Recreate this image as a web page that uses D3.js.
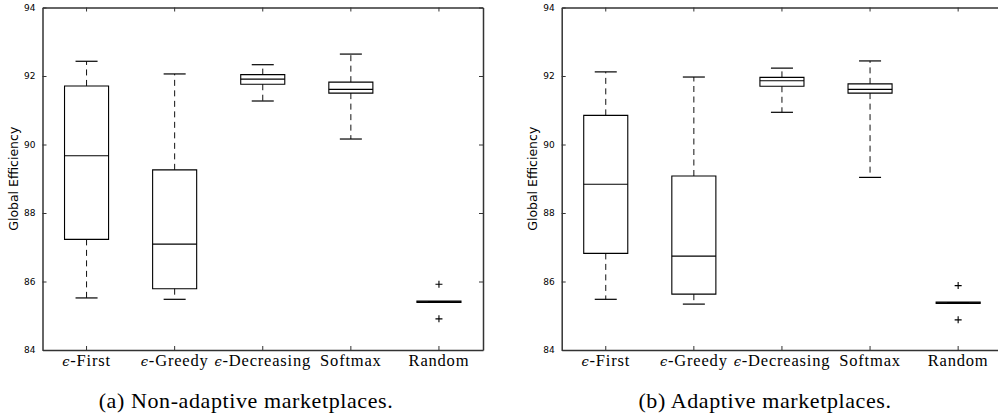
<!DOCTYPE html>
<html>
<head>
<meta charset="utf-8">
<script src="https://cdn.jsdelivr.net/npm/d3@7"></script>
<style>
  html, body { margin: 0; padding: 0; background: #fff; }
  svg { display: block; }
</style>
</head>
<body>
<svg id="chart" width="998" height="419"></svg>
<script>
// ---------- data ----------
const categories = ["ϵ-First", "ϵ-Greedy", "ϵ-Decreasing", "Softmax", "Random"];
const yTicks = [84, 86, 88, 90, 92, 94];
const yLabel = "Global Efficiency";
const captions = ["(a) Non-adaptive marketplaces.", "(b) Adaptive marketplaces."];

// (a) Non-adaptive marketplaces
const naWhiskerLow  = [85.52, 85.48, 91.27, 90.16, 85.41];
const naQ1          = [87.23, 85.79, 91.76, 91.50, 85.39];
const naMedian      = [89.67, 87.09, 91.91, 91.61, 85.41];
const naQ3          = [91.71, 89.26, 92.04, 91.82, 85.43];
const naWhiskerHigh = [92.43, 92.06, 92.33, 92.64, 85.41];
const naOutliers    = [[], [], [], [], [85.92, 84.91]];

// (b) Adaptive marketplaces
const adWhiskerLow  = [85.48, 85.34, 90.94, 89.04, 85.38];
const adQ1          = [86.82, 85.63, 91.70, 91.50, 85.36];
const adMedian      = [88.84, 86.74, 91.86, 91.61, 85.38];
const adQ3          = [90.85, 89.08, 91.96, 91.77, 85.40];
const adWhiskerHigh = [92.12, 91.97, 92.23, 92.44, 85.38];
const adOutliers    = [[], [], [], [], [85.88, 84.88]];

// ---------- drawing ----------
const svg = d3.select("#chart");

function buildRows(lo, q1, med, q3, hi, outl) {
  return categories.map((c, i) => ({
    cat: c, lo: lo[i], q1: q1[i], med: med[i], q3: q3[i], hi: hi[i], out: outl[i]
  }));
}

const panels = [
  { x0: 42.5, x1: 483, rows: buildRows(naWhiskerLow, naQ1, naMedian, naQ3, naWhiskerHigh, naOutliers), caption: captions[0], labelX: 14, capX: 246 },
  { x0: 561.7, x1: 1002.2, rows: buildRows(adWhiskerLow, adQ1, adMedian, adQ3, adWhiskerHigh, adOutliers), caption: captions[1], labelX: 533, capX: 765 }
];
const yTop = 7.5, yBot = 350;
const axisColor = "#333";

panels.forEach(p => {
  const g = svg.append("g");
  const x = d3.scaleBand().domain(categories).range([p.x0, p.x1]).padding(0);
  const y = d3.scaleLinear().domain([84, 94]).range([yBot, yTop]);
  const bw = x.bandwidth();
  const cx = c => x(c) + bw / 2;
  const boxW = bw * 0.5, capW = bw * 0.25;

  // axes
  const left = g.append("g").attr("transform", `translate(${p.x0},0)`)
    .call(d3.axisLeft(y).tickValues(yTicks).tickSize(-4).tickSizeOuter(0).tickPadding(7).tickFormat(d3.format("d")));
  const right = g.append("g").attr("transform", `translate(${p.x1},0)`)
    .call(d3.axisRight(y).tickValues(yTicks).tickSize(-4).tickSizeOuter(0).tickFormat(""));
  const bottom = g.append("g").attr("transform", `translate(0,${yBot})`)
    .call(d3.axisBottom(x).tickSize(-4).tickSizeOuter(0).tickFormat(""));
  const top = g.append("g").attr("transform", `translate(0,${yTop})`)
    .call(d3.axisTop(x).tickSize(-4).tickSizeOuter(0).tickFormat(""));
  [left, right, bottom, top].forEach(a => {
    a.select(".domain").attr("stroke", axisColor).attr("stroke-width", 1.5);
    a.selectAll(".tick line").attr("stroke", axisColor).attr("stroke-width", 1);
  });
  left.selectAll(".tick text")
    .attr("font-family", "'DejaVu Sans', sans-serif").attr("font-size", 9).attr("fill", "#000");

  // x tick labels
  bottom.selectAll(".tick").each(function (d) {
    const t = d3.select(this).append("text")
      .attr("text-anchor", "middle")
      .attr("font-family", "'Liberation Serif', 'Times New Roman', serif")
      .attr("font-size", 16.5).attr("letter-spacing", 0.8).attr("fill", "#000");
    if (d.startsWith("ϵ")) {
      t.append("tspan").attr("font-style", "italic").attr("font-family", "'DejaVu Serif', serif").attr("font-size", 13).text("ϵ");
      t.append("tspan").text(d.slice(1));
    } else {
      t.text(d);
    }
    t.attr("y", 15.5);
  });

  // boxes
  const boxes = g.append("g").selectAll("g").data(p.rows).join("g");
  // whiskers (dashed)
  boxes.append("line")
    .attr("x1", d => cx(d.cat)).attr("x2", d => cx(d.cat))
    .attr("y1", d => y(d.q3)).attr("y2", d => y(d.hi))
    .attr("stroke", "#111").attr("stroke-width", 1).attr("stroke-dasharray", "6,4.5");
  boxes.append("line")
    .attr("x1", d => cx(d.cat)).attr("x2", d => cx(d.cat))
    .attr("y1", d => y(d.q1)).attr("y2", d => y(d.lo))
    .attr("stroke", "#111").attr("stroke-width", 1).attr("stroke-dasharray", "6,4.5");
  // caps
  ["lo", "hi"].forEach(k => {
    boxes.append("line")
      .attr("x1", d => cx(d.cat) - capW / 2).attr("x2", d => cx(d.cat) + capW / 2)
      .attr("y1", d => y(d[k])).attr("y2", d => y(d[k]))
      .attr("stroke", "#000").attr("stroke-width", 1.2);
  });
  // box outline
  boxes.append("path")
    .attr("d", d => {
      const l = cx(d.cat) - boxW / 2, r = cx(d.cat) + boxW / 2;
      return `M${l},${y(d.q1)}L${r},${y(d.q1)}L${r},${y(d.q3)}L${l},${y(d.q3)}Z`;
    })
    .attr("fill", "none").attr("stroke", "#000").attr("stroke-width", 1.1);
  // median
  boxes.append("line")
    .attr("x1", d => cx(d.cat) - boxW / 2).attr("x2", d => cx(d.cat) + boxW / 2)
    .attr("y1", d => y(d.med)).attr("y2", d => y(d.med))
    .attr("stroke", "#000").attr("stroke-width", 1.1);
  // outliers (+ markers)
  boxes.each(function (d) {
    d3.select(this).selectAll("path.out").data(d.out).join("path")
      .attr("class", "out")
      .attr("d", v => {
        const px = cx(d.cat), py = y(v), s = 3.5;
        return `M${px - s},${py}L${px + s},${py}M${px},${py - s}L${px},${py + s}`;
      })
      .attr("stroke", "#000").attr("stroke-width", 1.1).attr("fill", "none");
  });

  // y label
  g.append("text")
    .attr("transform", `translate(${p.labelX},${(yTop + yBot) / 2}) rotate(-90)`)
    .attr("text-anchor", "middle").attr("dy", "0.35em")
    .attr("font-family", "'DejaVu Sans', sans-serif").attr("font-size", 12.5).attr("fill", "#000")
    .text(yLabel);

  // caption
  g.append("text")
    .attr("x", p.capX).attr("y", 408)
    .attr("text-anchor", "middle")
    .attr("font-family", "'Liberation Serif', 'Times New Roman', serif")
    .attr("font-size", 22).attr("letter-spacing", 0.6).attr("fill", "#000")
    .text(p.caption);
});
</script>
</body>
</html>
